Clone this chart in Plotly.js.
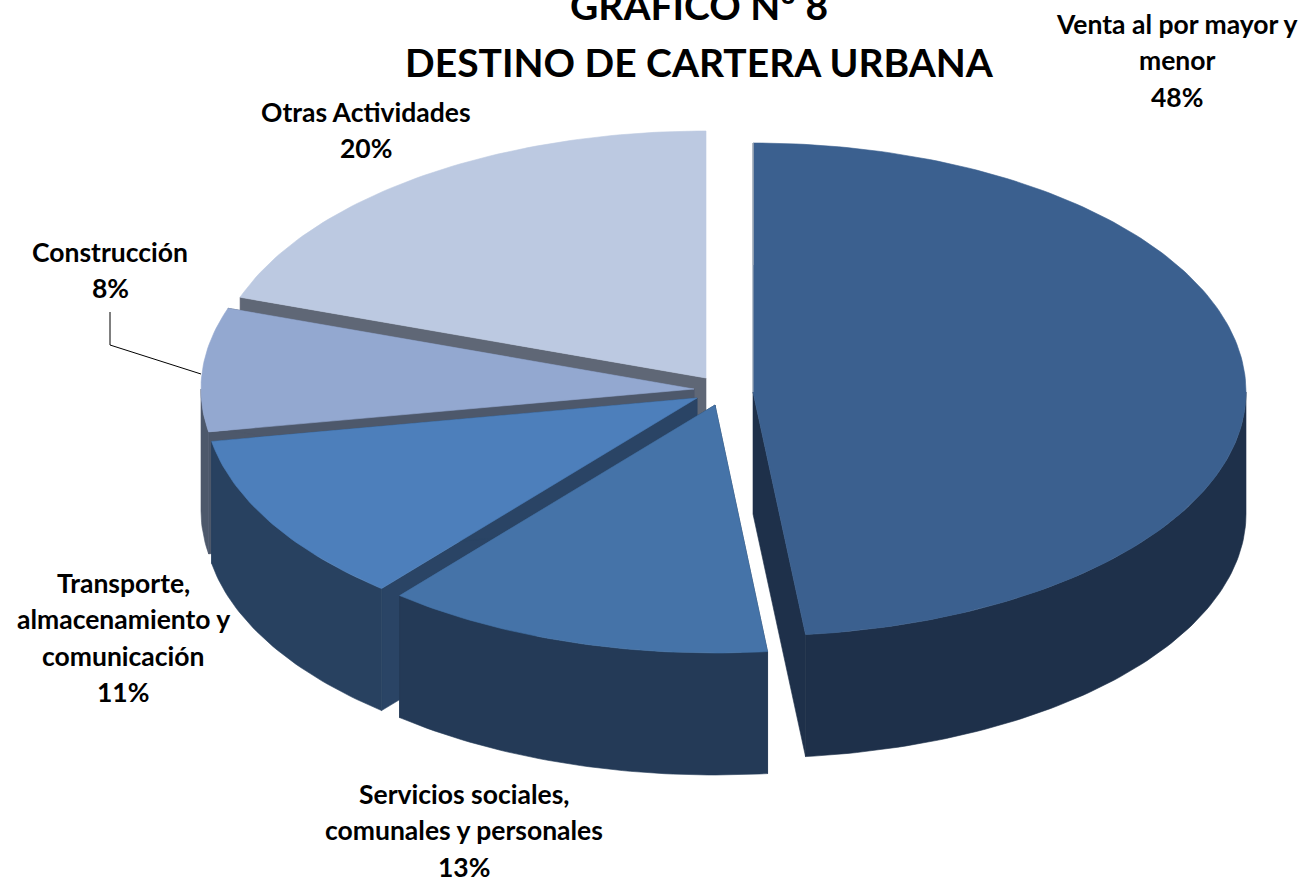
<!DOCTYPE html>
<html><head><meta charset="utf-8">
<script src="https://cdn.plot.ly/plotly-3.0.1.min.js"></script>
<style>html,body{margin:0;padding:0;background:#fff;overflow:hidden}#c{width:1306px;height:881px}</style>
</head><body><div id="c"></div>
<script>
// ---- data ----
const categories = ["Venta al por mayor y menor","Servicios sociales, comunales y personales","Transporte, almacenamiento y comunicación","Construcción","Otras Actividades"];
const values = [48.3, 12.75, 11.15, 8.1, 19.7];
const labelLines = [["Venta al por mayor y","menor"],["Servicios sociales,","comunales y personales"],["Transporte,","almacenamiento y","comunicación"],["Construcción"],["Otras Actividades"]];
const titleLines = ["GRÁFICO Nº 8","DESTINO DE CARTERA URBANA"];
// ---- style ----
const topColors  = ["#3b608f","#4573a8","#4d7fbb","#93a8d0","#bcc9e1"];
const wallColors = ["#1e304a","#243a57","#284160","#4d586b","#5f6776"];
const cutColors  = ["#1e304a","#243a57","#2a4465","#4d586b","#5f6776"];
const apexX = [753,715,697,694,706], apexY = [392,405,398,389,378];
const RX = 493, RY_BACK = [249,247,247,247,247], RY_FRONT = [244,248,248,245,245], DEPTH = 122;
const labelX = [1177,464,123,110,366], labelY = [24,794,583,252,112], LINE = 36.4;
const FONT = "Lato, 'Open Sans', sans-serif", LABEL_SIZE = 26.5, TITLE_SIZE = 39;

const total = values.reduce((a,b)=>a+b,0);
const rim = (i,deg,dy=0)=>{const t=deg*Math.PI/180,c=Math.cos(t);
  return [apexX[i]+RX*Math.sin(t), apexY[i]-(c>0?RY_BACK[i]:RY_FRONT[i])*c+dy];};
function arc(i,a,b,dy=0){const p=[],n=Math.max(2,Math.ceil(Math.abs(b-a)));
  for(let k=0;k<=n;k++)p.push(rim(i,a+(b-a)*k/n,dy));return p;}
const poly=(pts,color,name)=>({type:'scatter',mode:'lines',x:pts.map(p=>p[0]).concat(pts[0][0]),y:pts.map(p=>p[1]).concat(pts[0][1]),
  fill:'toself',fillcolor:color,line:{width:0.6,color:color},hoverinfo:'skip',name:name,showlegend:false});

const spans=[];let cum=0;values.forEach(v=>{const s=cum/total*360;cum+=v;spans.push([s,cum/total*360]);});
const traces=[];
// painter's order: back slices first
[4,3,2,1,0].forEach(i=>{
  const [a,b]=spans[i],A=[apexX[i],apexY[i]];
  [a,b].forEach(d=>{ if(Math.abs(Math.sin(d*Math.PI/180))<1e-6) return; const r=rim(i,d);
    traces.push(poly([A,r,[r[0],r[1]+DEPTH],[A[0],A[1]+DEPTH]],cutColors[i],categories[i]+" corte"));});
  const s=Math.max(a,90),e=Math.min(b,270);
  if(e>s)traces.push(poly(arc(i,s,e).concat(arc(i,e,s,DEPTH)),wallColors[i],categories[i]+" pared"));
  traces.push(poly([A].concat(arc(i,a,b)),topColors[i],categories[i]));
  if(i===0){const r=rim(0,a);
    traces.push({type:'scatter',mode:'lines',x:[A[0],r[0],r[0]],y:[A[1],r[1],r[1]+DEPTH],line:{width:1,color:'#aab2bc'},hoverinfo:'skip',showlegend:false});}
});

const annotations=[];
categories.forEach((c,i)=>{
  const lines=labelLines[i].concat(Math.round(values[i]/total*100)+"%");
  lines.forEach((t,k)=>annotations.push({xref:'x',yref:'y',x:labelX[i],y:labelY[i]+k*LINE,text:t,showarrow:false,
    xanchor:'center',yanchor:'middle',font:{family:FONT,size:LABEL_SIZE,color:'#000',weight:700}}));
});
annotations.push({xref:'x',yref:'y',x:699,y:5,text:titleLines[0],showarrow:false,xanchor:'center',yanchor:'middle',
  font:{family:FONT,size:TITLE_SIZE,color:'#000',weight:700}});

const hidden={visible:false,showgrid:false,zeroline:false,fixedrange:true};
Plotly.newPlot('c',traces,{
  width:1306,height:881,margin:{l:0,r:0,t:0,b:0},paper_bgcolor:'#fff',plot_bgcolor:'#fff',showlegend:false,
  title:{text:titleLines[1],font:{family:FONT,size:TITLE_SIZE,color:'#000',weight:700},x:699/1306,xanchor:'center',xref:'paper',y:1-63/881,yanchor:'middle',yref:'container'},
  xaxis:Object.assign({range:[0,1306]},hidden),yaxis:Object.assign({range:[881,0]},hidden),
  annotations:annotations,
  shapes:[{type:'path',xref:'x',yref:'y',path:'M110,312 L110,345 L201,374',line:{color:'#000',width:1}}]
},{displayModeBar:false,staticPlot:true});
</script></body></html>
